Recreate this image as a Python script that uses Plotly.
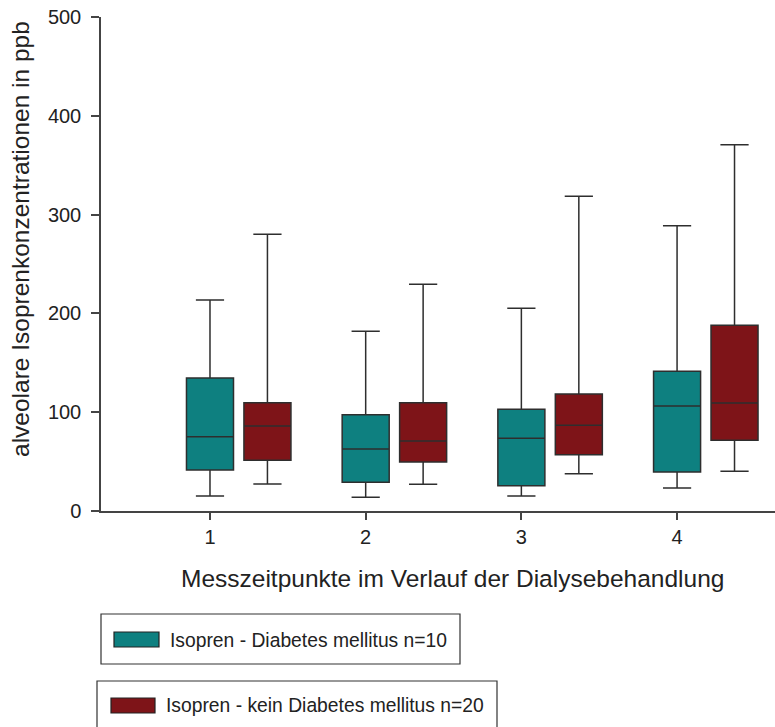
import plotly.graph_objects as go

# ---- data ----
categories = [1, 2, 3, 4]
tick_labels = ["1", "2", "3", "4"]

dm_name = "Isopren - Diabetes mellitus n=10"
dm_low = [15.2, 13.8, 15.2, 23.3]
dm_q1 = [41.5, 29.0, 25.6, 39.5]
dm_med = [75.2, 62.8, 73.6, 106.3]
dm_q3 = [134.6, 97.5, 102.9, 141.4]
dm_high = [213.6, 182.0, 205.1, 288.8]

ndm_name = "Isopren - kein Diabetes mellitus n=20"
ndm_low = [27.3, 27.0, 37.8, 40.2]
ndm_q1 = [51.3, 49.6, 57.0, 71.6]
ndm_med = [86.0, 70.9, 86.7, 109.3]
ndm_q3 = [109.6, 109.6, 118.4, 188.0]
ndm_high = [280.0, 229.4, 318.5, 370.8]

x_title = "Messzeitpunkte im Verlauf der Dialysebehandlung"
y_title = "alveolare Isoprenkonzentrationen in ppb"

TEAL = "#0e8080"
RED = "#7e1418"
LINE = "#2e2e2e"
TXT = "#222222"
FONT = "Liberation Sans, Arial, sans-serif"

W, H = 775, 727
L, R, T, B = 101, 0, 17, 216
PW, PH = W - L - R, H - T - B

offset = 0.369
box_w = 0.302

fig = go.Figure()
fig.add_trace(go.Box(
    x=categories, q1=dm_q1, median=dm_med, q3=dm_q3,
    lowerfence=dm_low, upperfence=dm_high,
    width=box_w, whiskerwidth=0.6, fillcolor=TEAL,
    line=dict(color=LINE, width=1.5), boxpoints=False,
    name=dm_name, showlegend=False,
))
fig.add_trace(go.Box(
    x=[c + offset for c in categories], q1=ndm_q1, median=ndm_med, q3=ndm_q3,
    lowerfence=ndm_low, upperfence=ndm_high,
    width=box_w, whiskerwidth=0.6, fillcolor=RED,
    line=dict(color=LINE, width=1.5), boxpoints=False,
    name=ndm_name, showlegend=False,
))


def px_x(x):
    return (x - L) / PW


def px_y(y):
    return (H - B - y) / PH


shapes = []
annotations = []
# legend boxes (paper coordinates from pixel layout)
legend_items = [
    (dm_name, TEAL, (101, 614, 460, 664), (114, 632, 159, 647), 168, 640),
    (ndm_name, RED, (97, 681, 497, 740), (111, 698, 155, 713), 164, 705),
]
for name, col, frame, patch, tx, ty in legend_items:
    shapes.append(dict(type="rect", xref="paper", yref="paper",
                       x0=px_x(frame[0]), x1=px_x(frame[2]),
                       y0=px_y(frame[3]), y1=px_y(frame[1]),
                       line=dict(color="#333333", width=1.2), fillcolor="rgba(0,0,0,0)"))
    shapes.append(dict(type="rect", xref="paper", yref="paper",
                       x0=px_x(patch[0]), x1=px_x(patch[2]),
                       y0=px_y(patch[3]), y1=px_y(patch[1]),
                       line=dict(color="#222222", width=1.2), fillcolor=col))
    annotations.append(dict(xref="paper", yref="paper", x=px_x(tx), y=px_y(ty),
                            xanchor="left", yanchor="middle", showarrow=False,
                            text=name, font=dict(family=FONT, size=19.3, color=TXT)))

# axis titles
annotations.append(dict(xref="paper", yref="paper", x=px_x(452), y=px_y(578),
                        xanchor="center", yanchor="middle", showarrow=False,
                        text=x_title, font=dict(family=FONT, size=24.5, color=TXT)))
annotations.append(dict(xref="paper", yref="paper", x=px_x(20), y=px_y(239),
                        xanchor="center", yanchor="middle", showarrow=False, textangle=-90,
                        text=y_title, font=dict(family=FONT, size=24.5, color=TXT)))

fig.update_layout(
    width=W, height=H,
    margin=dict(l=L, r=R, t=T, b=B),
    paper_bgcolor="white", plot_bgcolor="white",
    font=dict(family=FONT, color=TXT),
    shapes=shapes, annotations=annotations,
    showlegend=False,
)
fig.update_xaxes(
    range=[0.30, 4.629], tickvals=categories, ticktext=tick_labels,
    showgrid=False, zeroline=False, showline=True, linecolor="#444444", linewidth=1.5,
    ticks="outside", ticklen=7, tickcolor="#444444", tickwidth=1.5,
    tickfont=dict(size=20, family=FONT, color=TXT), ticklabelstandoff=0,
)
fig.update_yaxes(
    range=[0, 500], tickvals=[0, 100, 200, 300, 400, 500],
    showgrid=False, zeroline=False, showline=True, linecolor="#444444", linewidth=1.5,
    ticks="outside", ticklen=8, tickcolor="#444444", tickwidth=1.5,
    tickfont=dict(size=20, family=FONT, color=TXT), ticklabelstandoff=6,
)

fig.write_html("out.html")
